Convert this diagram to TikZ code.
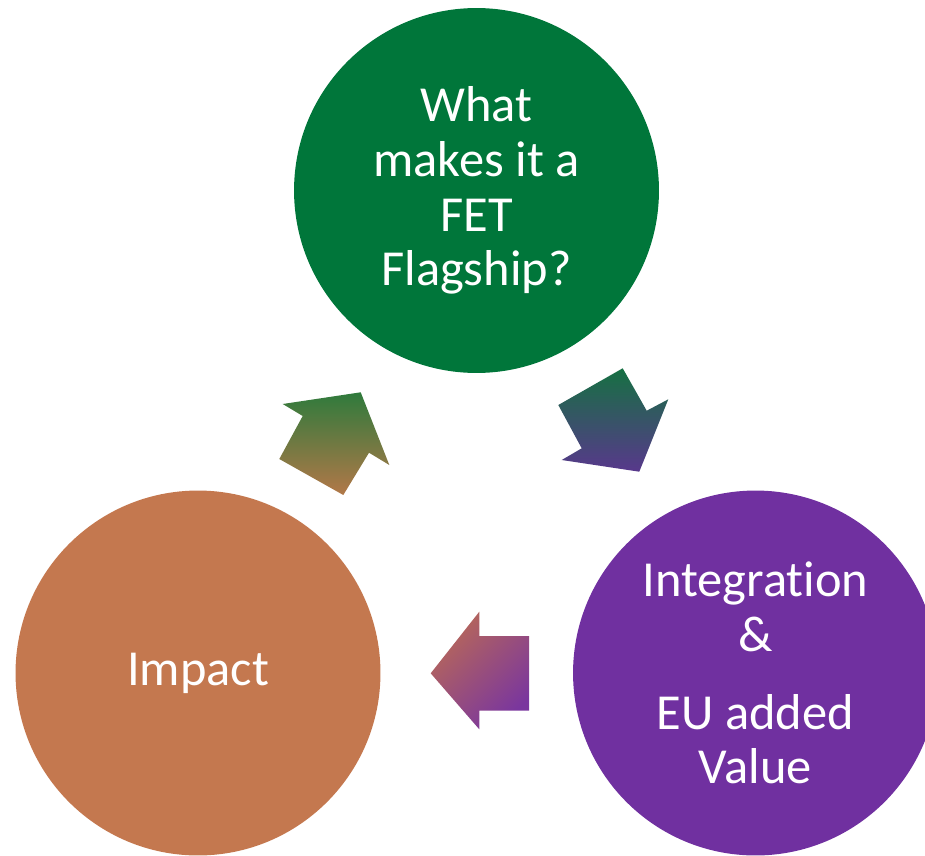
\documentclass[tikz,border=0pt]{standalone}
\usepackage{fontspec}
\setmainfont[Ligatures=NoCommon]{Carlito}
\definecolor{cGreen}{HTML}{00763A}
\definecolor{cPurple}{HTML}{7030A0}
\definecolor{cOrange}{HTML}{C4784F}
\definecolor{caGreen}{HTML}{2F7A3C}
\definecolor{caBrown}{HTML}{B27848}
\definecolor{cbGreen}{HTML}{167042}
\definecolor{cbPurple}{HTML}{58388C}
\definecolor{ccOrange}{HTML}{B86858}
\definecolor{ccPurple}{HTML}{7A369E}
\tikzset{
	bubble/.style={circle, minimum size=7.3cm, inner sep=0pt, text=white, align=center, font=\fontsize{28.7}{31.2}\selectfont}
}

\begin{document}
\begin{tikzpicture}[x=0.02cm, y=-0.02cm]
		\useasboundingbox (0,0) rectangle (925,855);
		\clip (0,0) rectangle (925,855);
		%top
		\node [bubble, fill=cGreen] (flagship) at (476.5,190.5) {What\\makes it a\\FET\\Flagship?};
		%bottom right
		\node [bubble, fill=cPurple] (value) at (755.5,673) {Integration\\\&\\[0.46cm]EU added\\Value};
		%bottom left
		\node [bubble, fill=cOrange] (impact) at (198,673) {Impact};
		
		%impact to flagship
		\shade [top color=caGreen, bottom color=caBrown] (360.7,392.3) -- (389.3,465) -- (369,452.7) -- (343.3,495) -- (279.3,459) -- (302.7,416) -- (282.7,404) -- cycle;
		%flagship to value
		\shade [top color=cbGreen, bottom color=cbPurple] (622.7,368.3) -- (646.7,410.7) -- (668.3,399.3) -- (639.3,471.7) -- (561.7,460) -- (581.7,448.3) -- (558.3,405) -- cycle;
		%value to impact
		\shade [top color=ccOrange, bottom color=ccPurple, shading angle=45] (430.7,673.3) -- (479.3,611.7) -- (479.3,636) -- (529,636) -- (529,710.7) -- (479.3,710.7) -- (479.3,729.3) -- cycle;
		
\end{tikzpicture}
\end{document}
